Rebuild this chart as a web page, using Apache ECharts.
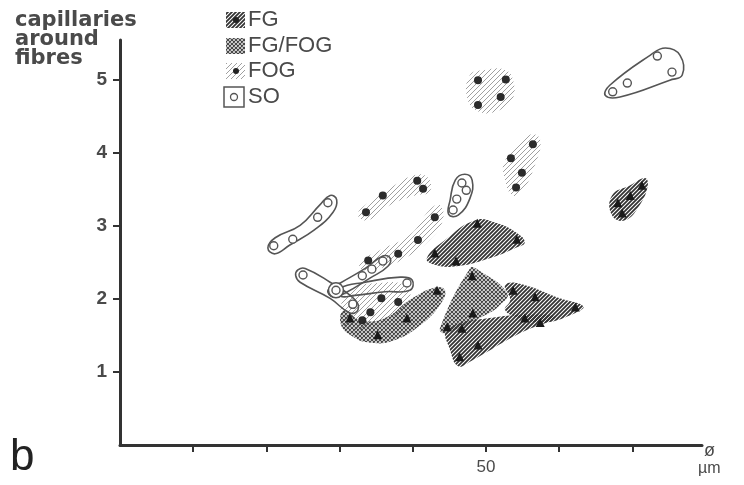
<!DOCTYPE html>
<html><head><meta charset="utf-8">
<script src="https://cdn.jsdelivr.net/npm/echarts@6/dist/echarts.min.js"></script>
<style>html,body{margin:0;padding:0;background:#fff}#c{width:744px;height:485px}</style>
</head><body><div id="c"></div>
<script>
// ---------- tick labels ----------
const yTickLabels = ['1','2','3','4','5'];
const xTickLabels = ['50'];

// ---------- marker data [diameter µm, capillaries] ----------
const fogDots = [[48.9,5.00],[52.7,5.01],[48.9,4.66],[52.0,4.77],
  [56.4,4.12],[53.4,3.93],[54.9,3.73],[54.1,3.53],
  [33.6,3.19],[35.9,3.42],[40.6,3.62],[41.4,3.51],
  [43.0,3.12],[40.7,2.81],[38.0,2.62],[33.9,2.53],
  [35.7,2.01],[38.0,1.96],[34.2,1.82],[31.8,1.92],[33.1,1.71]];
const fgFogDots = [[43.3,2.12],[39.2,1.74],[35.2,1.51],[31.4,1.74],
  [48.1,2.32],[48.2,1.81],[44.7,1.62]];
const fgDots = [[48.8,3.04],[54.2,2.82],[43.0,2.63],[45.9,2.52],
  [53.7,2.12],[56.7,2.03],[62.2,1.89],[55.3,1.74],[57.4,1.68],
  [46.7,1.60],[48.9,1.37],[46.4,1.21],
  [71.3,3.56],[69.7,3.42],[68.0,3.32],[68.6,3.18]];
const soDots = [[73.4,5.33],[75.4,5.11],[69.3,4.96],[67.3,4.84],
  [28.4,3.32],[27.0,3.12],[23.6,2.82],[21.0,2.73],
  [46.7,3.59],[47.3,3.49],[46.0,3.37],[45.5,3.22],
  [25.0,2.33],[29.5,2.12],[33.1,2.32],[34.4,2.41],[35.9,2.52],[39.2,2.22],[31.8,1.93]];
const soDouble = [[29.5,2.12]];

// ---------- region outlines [diameter µm, capillaries] ----------
const fogRegionA = [[47.8,5.07],[49.9,5.14],[52.6,5.14],[53.7,5.00],[53.6,4.73],[51.9,4.59],[49.2,4.56],[47.5,4.73]];
const fogRegionB = [[52.6,3.90],[56.0,4.25],[57.4,4.18],[56.7,3.84],[54.9,3.47],[53.6,3.42],[52.6,3.63]];
const fogRegionC = [[32.5,3.15],[33.5,3.29],[36.9,3.52],[40.3,3.70],[42.1,3.66],[42.3,3.47],[40.3,3.42],[36.9,3.29],[33.9,3.08]];
const fogRegionD = [[32.8,2.51],[35.5,2.67],[39.6,2.88],[42.3,3.22],[43.7,3.29],[44.1,3.08],[42.3,2.81],[38.9,2.56],[35.5,2.42],[33.1,2.40]];
const fogRegionE = [[31.4,2.12],[35.5,2.22],[38.9,2.19],[39.6,1.99],[37.6,1.78],[34.8,1.64],[31.4,1.58],[30.1,1.78]];
const fgFogRegionF = [[30.7,1.85],[32.8,1.71],[36.2,1.74],[39.6,1.99],[43.0,2.16],[44.4,2.12],[43.7,1.92],[41.0,1.64],[37.6,1.44],[34.2,1.40],[31.4,1.51],[30.1,1.68]];
const fgFogRegionG = [[47.8,2.42],[48.9,2.40],[52.9,2.08],[51.9,1.92],[49.9,1.78],[44.4,1.53],[43.7,1.60]];
const fgRegionH = [[41.9,2.56],[44.4,2.81],[48.5,3.08],[51.2,3.05],[54.0,2.92],[55.3,2.78],[54.0,2.70],[50.5,2.56],[46.0,2.45],[43.0,2.47]];
const fgRegionI = [[52.6,2.19],[54.6,2.21],[60.1,2.01],[63.3,1.90],[62.2,1.81],[58.1,1.68],[54.6,1.74],[52.6,1.85],[53.3,1.99]];
const fgRegionJ = [[44.7,1.58],[50.5,1.74],[58.1,1.79],[59.4,1.74],[54.6,1.53],[47.8,1.14],[46.2,1.08],[45.1,1.30]];
const fgRegionK = [[67.2,3.42],[69.7,3.56],[71.7,3.66],[72.1,3.56],[71.0,3.29],[69.0,3.08],[67.2,3.15]];
const soLoopTop = [[66.3,4.79],[66.9,4.93],[72.4,5.34],[74.5,5.44],[76.5,5.34],[76.8,5.07],[75.1,5.00],[68.3,4.77]];
const soLoopLeft = [[20.2,2.70],[21.2,2.84],[24.6,3.01],[27.3,3.29],[28.7,3.42],[29.6,3.36],[29.1,3.19],[26.6,2.95],[23.2,2.74],[21.2,2.62]];
const soLoopSmall = [[45.1,3.36],[45.8,3.63],[47.1,3.71],[48.1,3.63],[47.8,3.38],[46.2,3.15],[44.9,3.16]];
const soLoop1 = [[24.3,2.40],[25.3,2.42],[28.7,2.23],[32.1,1.99],[32.5,1.85],[31.4,1.81],[28.7,2.01],[24.6,2.23],[24.0,2.32]];
const soLoop2 = [[28.4,2.12],[30.1,2.22],[33.5,2.42],[35.9,2.59],[36.9,2.56],[36.6,2.45],[34.2,2.29],[30.7,2.08],[29.1,2.03]];
const soLoop3 = [[30.1,2.15],[33.5,2.23],[38.3,2.30],[39.9,2.26],[39.6,2.12],[36.2,2.10],[32.1,2.05],[30.1,2.04]];

const fogRegions = [fogRegionA, fogRegionB, fogRegionC, fogRegionD, fogRegionE];
const fgFogRegions = [fgFogRegionF, fgFogRegionG];
const fgRegions = [fgRegionH, fgRegionI, fgRegionJ, fgRegionK];
const soLoops = [soLoopTop, soLoopLeft, soLoopSmall, soLoop1, soLoop2, soLoop3];

// ---------- hatch patterns ----------
function hatch(size, color, lw, both) {
  const c = document.createElement('canvas');
  c.width = size; c.height = size;
  const x = c.getContext('2d');
  x.strokeStyle = color; x.lineWidth = lw;
  x.beginPath();
  x.moveTo(0, size); x.lineTo(size, 0);
  x.moveTo(-2, 2); x.lineTo(2, -2);
  x.moveTo(size - 2, size + 2); x.lineTo(size + 2, size - 2);
  if (both) {
    x.moveTo(0, 0); x.lineTo(size, size);
    x.moveTo(-2, size - 2); x.lineTo(2, size + 2);
    x.moveTo(size - 2, -2); x.lineTo(size + 2, 2);
  }
  x.stroke();
  return { image: c, repeat: 'repeat' };
}
const fogPat = hatch(5, '#a0a0a0', 1, false);
const fgPat = hatch(4, '#333', 1.8, false);
const fgFogPat = hatch(4, '#444', 1.2, true);

function regionSeries(regions, style, z) {
  return {
    type: 'custom', z: z, silent: true,
    data: regions.map(r => r[0]),
    renderItem: (params, api) => {
      const pts = regions[params.dataIndex].map(p => api.coord(p));
      return { type: 'polygon', shape: { points: pts, smooth: 0.45 }, style: style };
    }
  };
}

const chart = echarts.init(document.getElementById('c'), null, { renderer: 'canvas' });
const txt = '#4a4a4a';
chart.setOption({
  animation: false,
  grid: { left: 120, right: 42, top: 40, bottom: 40 },
  xAxis: {
    type: 'value', min: 0, max: 79.5, interval: 10,
    splitLine: { show: false },
    axisLine: { lineStyle: { color: '#333', width: 3 } },
    axisTick: { length: 7, lineStyle: { color: '#333', width: 2 } },
    axisLabel: { margin: 14, color: txt, fontSize: 17, fontFamily: 'Liberation Sans',
      showMinLabel: false, showMaxLabel: false,
      formatter: v => xTickLabels.indexOf(String(v)) >= 0 ? String(v) : '' }
  },
  yAxis: {
    type: 'value', min: 0, max: 5.55, interval: 1,
    splitLine: { show: false },
    axisLine: { lineStyle: { color: '#333', width: 3 } },
    axisTick: { length: 7, lineStyle: { color: '#333', width: 2 } },
    axisLabel: { margin: 13, color: txt, fontSize: 19, fontWeight: 'bold', fontFamily: 'Liberation Sans',
      showMinLabel: false, showMaxLabel: false,
      formatter: v => yTickLabels.indexOf(String(v)) >= 0 ? String(v) : '' }
  },
  series: [
    regionSeries(fogRegions, { fill: fogPat, stroke: null }, 1),
    regionSeries(fgFogRegions, { fill: fgFogPat, stroke: null }, 2),
    regionSeries(fgRegions, { fill: fgPat, stroke: null }, 3),
    regionSeries(soLoops, { fill: 'none', stroke: '#555', lineWidth: 1.6 }, 4),
    { type: 'scatter', z: 5, silent: true, data: fogDots, symbol: 'circle', symbolSize: 8,
      itemStyle: { color: '#2b2b2b', opacity: 1 } },
    { type: 'scatter', z: 5, silent: true, data: fgFogDots, symbol: 'triangle', symbolSize: 9,
      itemStyle: { color: '#1a1a1a', opacity: 1 } },
    { type: 'scatter', z: 5, silent: true, data: fgDots, symbol: 'triangle', symbolSize: 9,
      itemStyle: { color: '#1a1a1a', opacity: 1 } },
    { type: 'scatter', z: 6, silent: true, data: soDouble, symbol: 'circle', symbolSize: 15,
      itemStyle: { color: '#fff', borderColor: '#555', borderWidth: 1.6, opacity: 1 } },
    { type: 'scatter', z: 7, silent: true, data: soDots, symbol: 'circle', symbolSize: 8,
      itemStyle: { color: '#fff', borderColor: '#555', borderWidth: 1.4, opacity: 1 } }
  ],
  graphic: [
    { type: 'text', left: 15, top: 10, style: { text: 'capillaries\naround\nfibres', fill: txt,
      font: 'bold 21px "DejaVu Sans"', lineHeight: 19 } },
    { type: 'text', left: 10, top: 436, style: { text: 'b', fill: '#222', font: '44px "Liberation Sans"' } },
    { type: 'text', left: 704, top: 442, style: { text: 'ø', fill: txt, font: '18px "Liberation Sans"' } },
    { type: 'text', left: 698, top: 461, style: { text: 'µm', fill: txt, font: '16px "Liberation Sans"' } },
    // legend
    { type: 'rect', shape: { x: 226, y: 12, width: 19, height: 16 }, style: { fill: fgPat } },
    { type: 'circle', shape: { cx: 236, cy: 20, r: 3 }, style: { fill: '#222' } },
    { type: 'text', left: 248, top: 9, style: { text: 'FG', fill: txt, font: '22px "Liberation Sans"' } },
    { type: 'rect', shape: { x: 226, y: 38, width: 19, height: 16 }, style: { fill: fgFogPat } },
    { type: 'text', left: 248, top: 35, style: { text: 'FG/FOG', fill: txt, font: '22px "Liberation Sans"' } },
    { type: 'rect', shape: { x: 226, y: 63, width: 19, height: 16 }, style: { fill: fogPat } },
    { type: 'circle', shape: { cx: 236, cy: 71, r: 3 }, style: { fill: '#222' } },
    { type: 'text', left: 248, top: 60, style: { text: 'FOG', fill: txt, font: '22px "Liberation Sans"' } },
    { type: 'rect', shape: { x: 224, y: 87, width: 20, height: 20 }, style: { fill: '#fff', stroke: '#555', lineWidth: 1.5 } },
    { type: 'circle', shape: { cx: 234, cy: 97, r: 3.5 }, style: { fill: '#fff', stroke: '#555', lineWidth: 1.3 } },
    { type: 'text', left: 248, top: 86, style: { text: 'SO', fill: txt, font: '22px "Liberation Sans"' } }
  ]
});
</script></body></html>
